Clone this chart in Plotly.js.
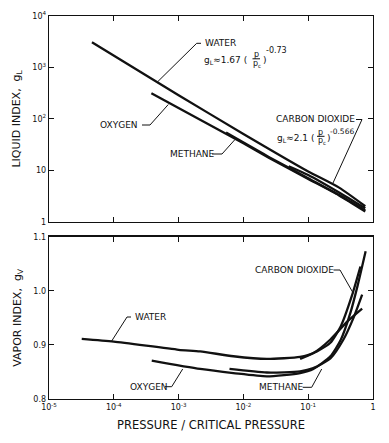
<!DOCTYPE html>
<html>
<head>
<meta charset="utf-8">
<script src="https://cdn.plot.ly/plotly-3.0.1.min.js"></script>
<style>html,body{margin:0;padding:0;background:#fff;}#chart{width:389px;height:443px;}</style>
</head>
<body>
<div id="chart"></div>
<script>
// ---------- DATA ----------
// Top panel: liquid index g_L vs P/Pc
const waterLiqP   = [4.6e-5, 1e-3, 1e-2, 1e-1, 0.3, 0.76];
const waterLiqG   = [3090, 288, 51, 9.5, 4.6, 2.0];
const oxygenLiqP  = [3.8e-4, 1e-2, 2.5e-2, 1e-1, 0.3, 0.76];
const oxygenLiqG  = [316, 33.5, 17.4, 6.8, 3.25, 1.58];
const methaneLiqP = [5.4e-3, 2.5e-2, 1e-1, 0.3, 0.76];
const methaneLiqG = [54, 18, 7.0, 3.3, 1.66];
const co2LiqP     = [5e-2, 1e-1, 0.3, 0.76];
const co2LiqG     = [12, 8.1, 3.7, 1.82];

// Bottom panel: vapor index g_V vs P/Pc
const waterVapP   = [3.2e-5, 1e-4, 1e-3, 2.15e-3, 7e-3, 2.3e-2, 7.5e-2, 0.12, 0.22, 0.4, 0.68];
const waterVapG   = [0.911, 0.906, 0.891, 0.888, 0.879, 0.874, 0.878, 0.885, 0.910, 0.943, 0.967];
const co2VapP     = [7.5e-2, 0.136, 0.22, 0.32, 0.47, 0.64];
const co2VapG     = [0.874, 0.888, 0.904, 0.935, 0.99, 1.045];
const oxygenVapP  = [3.85e-4, 2.15e-3, 7e-3, 2.3e-2, 7.5e-2, 0.12, 0.22, 0.32, 0.45, 0.58, 0.77];
const oxygenVapG  = [0.871, 0.8555, 0.848, 0.842, 0.848, 0.8555, 0.879, 0.91, 0.96, 1.01, 1.073];
const methaneVapP = [6.1e-3, 2.3e-2, 7.5e-2, 0.12, 0.22, 0.35, 0.5, 0.68];
const methaneVapG = [0.8555, 0.849, 0.851, 0.857, 0.875, 0.91, 0.95, 0.993];

// Tick labels
const xTickVals = [1e-5, 1e-4, 1e-3, 1e-2, 1e-1, 1];
const xTickText = ['10<sup>-5</sup>', '10<sup>-4</sup>', '10<sup>-3</sup>', '10<sup>-2</sup>', '10<sup>-1</sup>', '1'];
const yLiqTickVals = [1, 10, 100, 1000, 10000];
const yLiqTickText = ['1', '10', '10<sup>2</sup>', '10<sup>3</sup>', '10<sup>4</sup>'];
const yVapTickVals = [0.8, 0.9, 1.0, 1.1];
const yVapTickText = ['0.8', '0.9', '1.0', '1.1'];

// ---------- FIGURE ----------
const FONT = 'DejaVu Sans, sans-serif';
const INK = '#111';
const W = 389, H = 443, ML = 49, MR = 16, MT = 16, MB = 44;
const PW = W - ML - MR, PH = H - MT - MB;
const X = px => (px - ML) / PW;
const Y = py => (H - MB - py) / PH;

function line(x, y, xa, ya) {
  return {x: x, y: y, xaxis: xa, yaxis: ya, type: 'scatter', mode: 'lines',
          line: {color: INK, width: 2.3, shape: 'spline', smoothing: 0.6},
          hoverinfo: 'skip', showlegend: false};
}
const traces = [
  line(waterLiqP, waterLiqG, 'x', 'y'),
  line(oxygenLiqP, oxygenLiqG, 'x', 'y'),
  line(methaneLiqP, methaneLiqG, 'x', 'y'),
  line(co2LiqP, co2LiqG, 'x', 'y'),
  line(waterVapP, waterVapG, 'x2', 'y2'),
  line(co2VapP, co2VapG, 'x2', 'y2'),
  line(oxygenVapP, oxygenVapG, 'x2', 'y2'),
  line(methaneVapP, methaneVapG, 'x2', 'y2')
];

function leader(pts) {
  return {type: 'path', xref: 'paper', yref: 'paper',
          path: pts.map((p, i) => (i ? 'L' : 'M') + X(p[0]) + ',' + Y(p[1])).join(' '),
          line: {color: INK, width: 1}};
}
function label(text, px, py, xanchor, size) {
  return {text: text, xref: 'paper', yref: 'paper', x: X(px), y: Y(py),
          xanchor: xanchor || 'left', yanchor: 'middle', showarrow: false,
          font: {family: FONT, size: size || 9, color: INK}};
}

const shapes = [
  leader([[157.7, 81.7], [196.7, 43.3], [201, 43.3]]),
  leader([[142, 125], [150, 125], [168.3, 104.5]]),
  leader([[212, 154], [222, 154], [235, 139.5]]),
  leader([[356, 119.5], [362, 119.5], [333, 183]]),
  leader([[131, 317], [127, 317], [111.7, 341]]),
  leader([[165, 386.7], [171.7, 386.7], [182.7, 369]]),
  leader([[333.5, 270], [340, 270], [353.3, 293.3]]),
  leader([[302.7, 387.3], [311.7, 387.3], [321.7, 369]]),
  // fraction bars
  leader([[252.5, 58.8], [260, 58.8]]),
  leader([[317, 136.3], [324.5, 136.3]])
];

const annotations = [
  label('WATER', 203, 43.3),
  label('g<sub>L</sub>≈1.67 (', 202, 60),
  label('p', 256.3, 54, 'center', 8),
  label('p<sub>c</sub>', 257, 63.5, 'center', 8),
  label(')', 260.5, 60),
  label('-0.73', 264, 50.5, 'left', 8),
  label('OXYGEN', 140, 125, 'right'),
  label('METHANE', 168, 154),
  label('CARBON DIOXIDE', 274, 119),
  label('g<sub>L</sub>≈2.1 (', 275, 138),
  label('p', 320.8, 132, 'center', 8),
  label('p<sub>c</sub>', 321.5, 141, 'center', 8),
  label(')', 325, 138),
  label('-0.566', 328, 131.5, 'left', 7.5),
  label('WATER', 133, 317),
  label('OXYGEN', 128, 386.7),
  label('CARBON DIOXIDE', 253, 270),
  label('METHANE', 256.7, 387.3)
];

const axBase = {
  showline: true, linecolor: INK, linewidth: 1.3, mirror: 'ticks',
  ticks: 'inside', ticklen: 5, tickwidth: 1, tickcolor: INK,
  showgrid: false, zeroline: false, fixedrange: true,
  tickfont: {family: FONT, size: 8, color: INK}
};

const layout = {
  width: W, height: H,
  margin: {l: ML, r: MR, t: MT, b: MB, pad: 0},
  paper_bgcolor: '#fff', plot_bgcolor: '#fff',
  showlegend: false,
  font: {family: FONT, color: INK},
  xaxis: Object.assign({}, axBase, {type: 'log', range: [-5, 0], domain: [0, 1], anchor: 'y',
          tickvals: xTickVals, showticklabels: false}),
  yaxis: Object.assign({}, axBase, {type: 'log', range: [0, 4], domain: [Y(221.7), 1], anchor: 'x',
          tickvals: yLiqTickVals, ticktext: yLiqTickText,
          title: {text: 'LIQUID INDEX,  g<sub>L</sub>', standoff: 9, font: {family: FONT, size: 11, color: INK}}}),
  xaxis2: Object.assign({}, axBase, {type: 'log', range: [-5, 0], domain: [0, 1], anchor: 'y2',
          tickvals: xTickVals, ticktext: xTickText,
          title: {text: 'PRESSURE / CRITICAL PRESSURE', standoff: 10, font: {family: FONT, size: 11.5, color: INK}}}),
  yaxis2: Object.assign({}, axBase, {type: 'linear', range: [0.8, 1.1], domain: [0, Y(236.7)], anchor: 'x2',
          tickvals: yVapTickVals, ticktext: yVapTickText,
          title: {text: 'VAPOR INDEX,  g<sub>V</sub>', standoff: 9, font: {family: FONT, size: 11, color: INK}}}),
  shapes: shapes,
  annotations: annotations
};

Plotly.newPlot('chart', traces, layout, {displayModeBar: false, staticPlot: true});
</script>
</body>
</html>
